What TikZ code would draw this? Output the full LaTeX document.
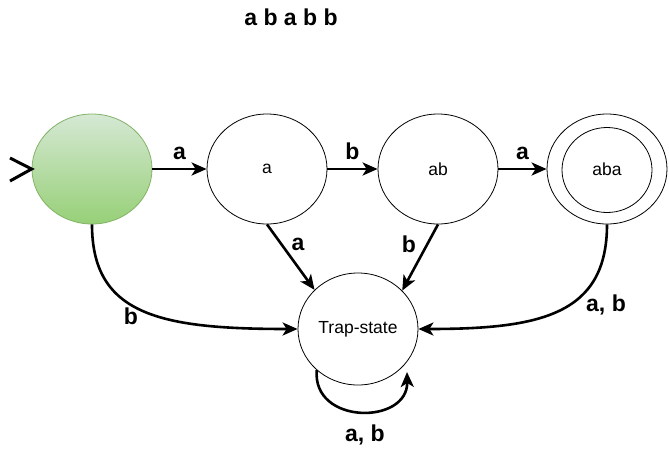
\documentclass[tikz,border=0pt]{standalone}
\usepackage{fontspec}
\setmainfont{Liberation Sans}
\usetikzlibrary{arrows.meta,shapes.geometric,calc}
\definecolor{gtop}{HTML}{D5E8D4}
\definecolor{gbot}{HTML}{97D077}
\definecolor{gline}{HTML}{82B366}
\tikzset{
  st/.style={ellipse,draw=black,line width=0.8pt,minimum width=120pt,minimum height=110pt,inner sep=0pt,font=\fontsize{17.5}{20}\selectfont},
  edge/.style={line width=2.6pt,-{Stealth[length=15pt,width=13pt,inset=4pt]}},
  lbl/.style={font=\fontsize{23}{27}\selectfont\bfseries,inner sep=0pt}
}
\begin{document}
\begin{tikzpicture}[x=1pt,y=-1pt]
\useasboundingbox (0,0) rectangle (669,448);
\node[st,draw=gline,top color=gtop,bottom color=gbot] (s) at (92,169) {};
\node[st] (a) at (267,169) {a};
\node[st] (ab) at (438,169) {ab};
\node[st] (aba) at (607,169) {aba};
\node[st,minimum width=90pt,minimum height=85pt] (abai) at (607,170) {};
\node[st,minimum height=112pt] (t) at (358,329) {Trap-state};
\node[lbl] (title) at (291,17) {a b a b b};
% start marker
\coordinate (i1) at (10,158);
\coordinate (i2) at (10,181);
\draw[line width=3pt] (i1) -- (s.west) -- (i2);
\draw[edge] (s.east) -- node[lbl,above=8pt] {a} (a.west);
\draw[edge] (a.east) -- node[lbl,above=8pt] {b} (ab.west);
\draw[edge] (ab.east) -- node[lbl,above=8pt] {a} (aba.west);
\draw[edge] (a.south) -- (t.138);
\node[lbl] at (298,244) {a};
\draw[edge] (ab.south) -- (t.41);
\node[lbl] at (409,244) {b};
\draw[edge] (s.south) .. controls (92,315) and (160,329) .. (t.west);
\node[lbl] at (131,316) {b};
\draw[edge] (aba.south) .. controls (607,315) and (540,329) .. (t.east);
\node[lbl] at (606,305) {a, b};
\coordinate (le) at (407,372);
\draw[edge] (t.-135) .. controls (312,425) and (408,425) .. (le);
\node[lbl] at (365,435) {a, b};
\end{tikzpicture}
\end{document}
